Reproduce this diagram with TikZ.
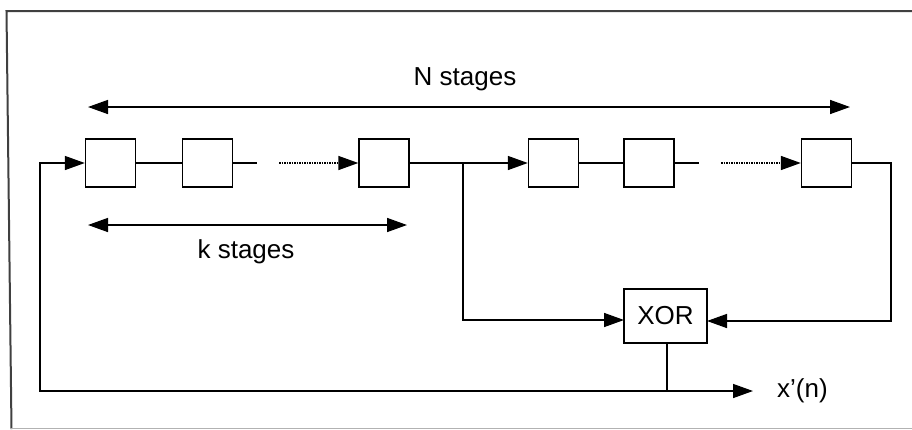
\documentclass[tikz,border=0pt]{standalone}
\usepackage{fontspec}
\setmainfont{Liberation Sans}
\usetikzlibrary{arrows.meta}
\begin{document}
\begin{tikzpicture}[x=1pt,y=-1pt,
  stage/.style={draw,line width=1.4pt,minimum width=50pt,minimum height=48pt,inner sep=0pt},
  xorbox/.style={draw,line width=1.4pt,minimum width=83pt,minimum height=54pt,inner sep=0pt,font=\fontsize{26}{31}\selectfont},
  lbl/.style={font=\fontsize{26}{31}\selectfont,inner sep=0pt},
  wire/.style={line width=1.5pt},
  arr/.style={wire,-{Triangle[length=20pt,width=14pt]}},
  darr/.style={wire,{Triangle[length=20pt,width=14pt]}-{Triangle[length=20pt,width=14pt]}},
  dots/.style={line width=1.5pt,densely dotted,-{Triangle[length=20pt,width=14pt]}},
  frame/.style={line width=2pt,black!75}
]
\useasboundingbox (0,0) rectangle (912,429);
% frame
\draw[frame] (912,11) -- (6.5,11) -- (11.5,429);
\draw[line width=1pt,black!30] (10,428) -- (912,428);

% stages
\node[stage] (b1) at (110.5,163) {};
\node[stage] (b2) at (207.5,163) {};
\node[stage] (b3) at (384,163) {};
\node[stage] (b4) at (553.5,163) {};
\node[stage] (b5) at (649,163) {};
\node[stage] (b6) at (826.5,163) {};
\node[xorbox] (xor) at (665.5,316) {XOR};

\coordinate (d1) at (257,163);
\coordinate (d2) at (279,163);
\coordinate (d3) at (699,163);
\coordinate (d4) at (721,163);
\coordinate (j) at (463,163);
\coordinate (jb) at (463,320);
\coordinate (xw) at (624,320);
\coordinate (xe) at (707,321);
\coordinate (r1) at (891,163);
\coordinate (r2) at (891,321);
\coordinate (o) at (667,391);
\coordinate (xs) at (667,343);
\coordinate (fb1) at (40,391);
\coordinate (fb2) at (40,163);
\coordinate (out) at (753,391);

\draw[wire] (b1.east) -- (b2.west);
\draw[wire] (b2.east) -- (d1);
\draw[dots] (d2) -- (b3.west);
\draw[wire] (b3.east) -- (j);
\draw[arr] (j) -- (b4.west);
\draw[wire] (b4.east) -- (b5.west);
\draw[wire] (b5.east) -- (d3);
\draw[dots] (d4) -- (b6.west);
\draw[arr] (b6.east) -- (r1) -- (r2) -- (xe);
\draw[arr] (j) -- (jb) -- (xw);
\draw[wire] (xs) -- (o);
\draw[arr] (o) -- (fb1) -- (fb2) -- (b1.west);
\draw[arr] (o) -- (out);
\node[lbl,anchor=west] (xo) at (777,391) {x’(n)};

% stage-count arrows
\coordinate (n1) at (88,107);
\coordinate (n2) at (850,107);
\draw[darr] (n1) -- (n2);
\node[lbl] (nl) at (465,79) {N stages};
\coordinate (k1) at (88,225);
\coordinate (k2) at (407,225);
\draw[darr] (k1) -- (k2);
\node[lbl] (kl) at (246,252) {k stages};
\end{tikzpicture}
\end{document}
